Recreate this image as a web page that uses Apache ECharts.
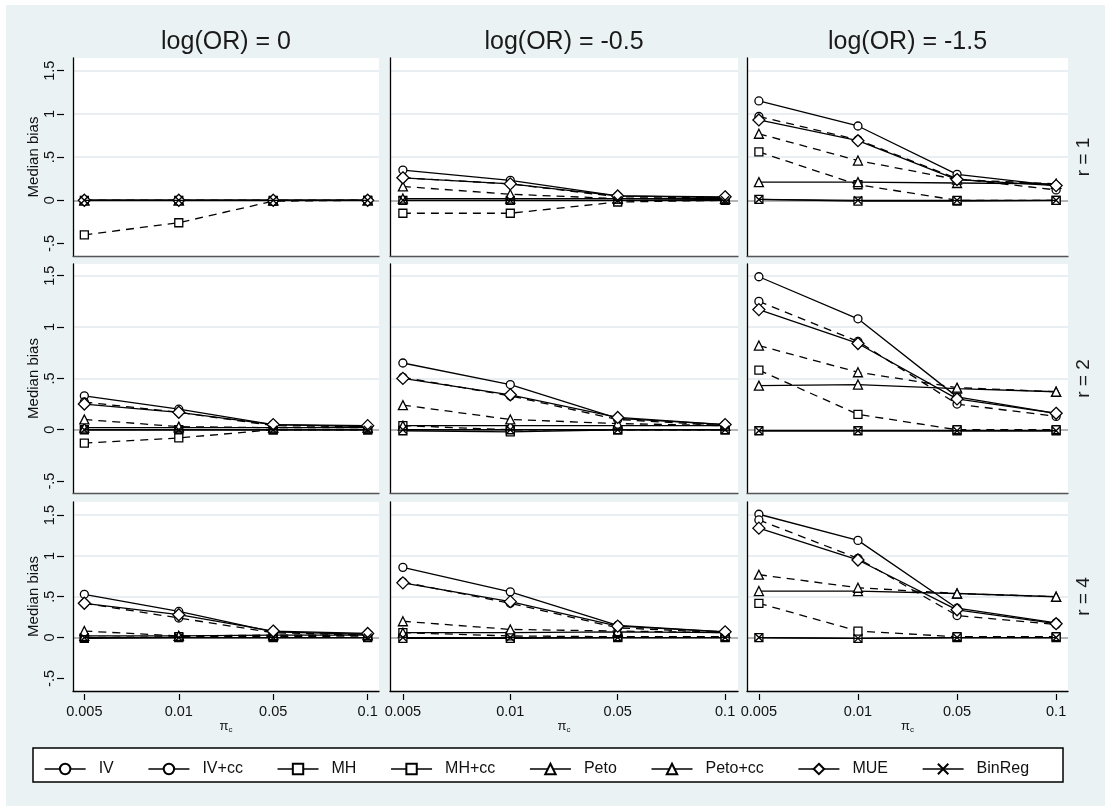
<!DOCTYPE html>
<html><head><meta charset="utf-8">
<script src="https://cdn.jsdelivr.net/npm/echarts@6/dist/echarts.min.js"></script>
<style>html,body{margin:0;padding:0;background:#fff}#c{width:1105px;height:806px}</style>
</head><body><div id="c"></div>
<script>
// ---- data ----
const piLabels = ['0.005', '0.01', '0.05', '0.1'];
const colTitles = ['log(OR) = 0', 'log(OR) = -0.5', 'log(OR) = -1.5'];
const rowTitles = ['r = 1', 'r = 2', 'r = 4'];
const yTicks = [-0.5, 0, 0.5, 1, 1.5];
const yTickLabels = ['-.5', '0', '.5', '1', '1.5'];
const methods = ['IV', 'IV+cc', 'MH', 'MH+cc', 'Peto', 'Peto+cc', 'MUE', 'BinReg'];
// each: [row r=1, r=2, r=4][col logOR 0, -0.5, -1.5][pi 0.005, 0.01, 0.05, 0.1]
const IV = [
  [[0, 0, 0, 0], [0.35, 0.23, 0.05, 0.03], [1.15, 0.86, 0.30, 0.17]],
  [[0.33, 0.20, 0.05, 0.03], [0.65, 0.44, 0.11, 0.05], [1.49, 1.08, 0.32, 0.16]],
  [[0.53, 0.32, 0.07, 0.04], [0.86, 0.56, 0.15, 0.07], [1.51, 1.19, 0.36, 0.18]]
];
const IVcc = [
  [[0, 0, 0, 0], [0.26, 0.19, 0.04, 0.03], [0.97, 0.70, 0.25, 0.12]],
  [[0.27, 0.17, 0.04, 0.03], [0.51, 0.33, 0.10, 0.04], [1.25, 0.86, 0.25, 0.13]],
  [[0.42, 0.24, 0.06, 0.03], [0.68, 0.42, 0.12, 0.06], [1.44, 0.97, 0.27, 0.16]]
];
const MH = [
  [[0, 0, 0, 0], [0, 0, 0, 0.01], [0.01, -0.01, -0.01, 0]],
  [[0, 0, 0, 0], [-0.01, -0.02, 0, 0], [-0.01, -0.01, -0.01, -0.01]],
  [[-0.01, 0, 0, 0], [-0.01, -0.01, 0, 0], [0, -0.01, 0, 0]]
];
const MHcc = [
  [[-0.40, -0.26, -0.01, 0], [-0.15, -0.15, -0.02, 0], [0.56, 0.18, 0, 0]],
  [[-0.13, -0.08, 0, 0], [0.04, 0, 0, 0], [0.58, 0.15, 0, 0]],
  [[0, 0.01, 0.01, 0.02], [0.06, 0.02, 0.01, 0.01], [0.42, 0.08, 0.01, 0.01]]
];
const Peto = [
  [[0, 0, 0, 0], [0.02, 0.02, 0.02, 0.02], [0.21, 0.21, 0.20, 0.19]],
  [[0.02, 0.02, 0.02, 0.02], [0.04, 0.04, 0.04, 0.04], [0.43, 0.44, 0.40, 0.37]],
  [[0.02, 0.02, 0.03, 0.03], [0.06, 0.06, 0.07, 0.06], [0.57, 0.57, 0.54, 0.50]]
];
const Petocc = [
  [[0, 0, 0, 0], [0.16, 0.07, 0.02, 0.02], [0.77, 0.46, 0.24, 0.19]],
  [[0.10, 0.03, 0.02, 0.02], [0.24, 0.10, 0.06, 0.04], [0.82, 0.56, 0.41, 0.37]],
  [[0.08, 0.02, 0.03, 0.03], [0.20, 0.10, 0.08, 0.06], [0.77, 0.61, 0.54, 0.50]]
];
const MUE = [
  [[0, 0, 0, 0], [0.26, 0.19, 0.05, 0.04], [0.93, 0.69, 0.24, 0.17]],
  [[0.25, 0.17, 0.05, 0.04], [0.50, 0.34, 0.12, 0.05], [1.17, 0.84, 0.30, 0.16]],
  [[0.42, 0.28, 0.08, 0.05], [0.67, 0.44, 0.14, 0.07], [1.34, 0.95, 0.34, 0.17]]
];
const BinReg = [
  [[0, 0, 0, 0], [0, 0, 0, 0], [0.01, 0, 0, 0]],
  [[0, 0, 0, 0], [0, 0, 0, 0], [-0.01, -0.01, -0.01, -0.01]],
  [[0, 0, 0, 0], [0, 0, 0, 0], [0, -0.01, 0, 0]]
];
const methodData = [IV, IVcc, MH, MHcc, Peto, Petocc, MUE, BinReg];

// ---- styling / layout ----
const FONT = "'Liberation Sans', Arial, Helvetica, sans-serif";
const symbols = ['circle', 'circle', 'rect', 'rect', 'triangle', 'triangle', 'diamond', 'path://M0,0L10,10M10,0L0,10'];
const symbolSizes = [8, 8, 8, 8, 9, 9, 12, 8];
const dashed = [false, true, false, true, false, true, false, false];
const colX = [[73, 379], [390, 738], [747, 1068]];
const rowY = [[58, 256], [264, 493], [502, 691]];
const rowRange = [[-0.645, 1.647], [-0.616, 1.614], [-0.654, 1.66]];

function yLab(v) {
  for (let i = 0; i < yTicks.length; i++) if (Math.abs(yTicks[i] - v) < 1e-6) return yTickLabels[i];
  return '';
}

const grids = [], xAxes = [], yAxes = [], series = [];
for (let r = 0; r < 3; r++) {
  for (let c = 0; c < 3; c++) {
    const gi = r * 3 + c;
    grids.push({
      left: colX[c][0], top: rowY[r][0],
      width: colX[c][1] - colX[c][0], height: rowY[r][1] - rowY[r][0],
      show: true, backgroundColor: '#fff', borderWidth: 0, containLabel: false, outerBoundsMode: 'none'
    });
    xAxes.push({
      gridIndex: gi, type: 'value', min: -0.12, max: 3.12, position: 'bottom',
      axisLine: { show: true, onZero: false, lineStyle: { color: r < 2 ? '#555' : '#000', width: 1.3 } },
      axisTick: { show: false }, axisLabel: { show: false }, splitLine: { show: false }
    });
    xAxes.push({
      gridIndex: gi, type: 'value', min: -0.12, max: 3.12, position: 'bottom', offset: 3,
      show: r === 2,
      axisLine: { show: false, onZero: false },
      axisTick: { show: true, length: 6, customValues: [0, 1, 2, 3], lineStyle: { color: '#000', width: 1.2 } },
      axisLabel: { show: true, customValues: [0, 1, 2, 3], formatter: v => piLabels[Math.round(v)] || '',
        fontSize: 14.5, color: '#111', fontFamily: FONT, margin: 10 },
      splitLine: { show: false },
      name: '{a|π}{b|c}', nameLocation: 'middle', nameGap: 24,
      nameTextStyle: { rich: {
        a: { fontSize: 13, fontFamily: FONT, color: '#111', lineHeight: 14 },
        b: { fontSize: 8, fontFamily: FONT, color: '#111', verticalAlign: 'bottom', lineHeight: 8 }
      } }
    });
    yAxes.push({
      gridIndex: gi, type: 'value', min: rowRange[r][0], max: rowRange[r][1], position: 'left',
      axisLine: { show: true, onZero: false, lineStyle: { color: '#000', width: 1.3 } },
      axisTick: { show: false, customValues: yTicks },
      axisLabel: { show: false, customValues: yTicks },
      splitLine: { show: true, lineStyle: { color: ['rgba(0,0,0,0)', '#9c9c9c', '#e1e9ed', '#e1e9ed', '#e1e9ed'], width: 1.6 } }
    });
    yAxes.push({
      gridIndex: gi, type: 'value', min: rowRange[r][0], max: rowRange[r][1], position: 'left', offset: 9,
      show: c === 0,
      axisLine: { show: false, onZero: false },
      axisTick: { show: true, length: 7, customValues: yTicks, lineStyle: { color: '#000', width: 1.2 } },
      axisLabel: { show: true, customValues: yTicks, formatter: yLab, rotate: 90, fontSize: 14.5, color: '#111',
        fontFamily: FONT, margin: 7 },
      splitLine: { show: false },
      name: 'Median bias', nameLocation: 'middle', nameRotate: 90, nameGap: 20,
      nameTextStyle: { fontSize: 15, color: '#111', fontFamily: FONT }
    });
    for (let m = 0; m < methods.length; m++) {
      const vals = methodData[m][r][c];
      series.push({
        type: 'line', name: methods[m], xAxisIndex: gi * 2, yAxisIndex: gi * 2,
        data: vals.map((v, k) => [k, v]),
        symbol: symbols[m], symbolSize: symbolSizes[m], showSymbol: true, showAllSymbol: true,
        lineStyle: { color: '#000', width: 1.3, type: dashed[m] ? [8, 6] : 'solid' },
        itemStyle: { color: '#fff', borderColor: '#000', borderWidth: 1.3 },
        emphasis: { disabled: true }, silent: true, z: 2 + m * 0.01
      });
    }
  }
}

const graphics = [
  { type: 'rect', shape: { x: 0, y: 0, width: 1105, height: 5 }, style: { fill: '#fff' }, silent: true },
  { type: 'rect', shape: { x: 0, y: 0, width: 6, height: 806 }, style: { fill: '#fff' }, silent: true },
  { type: 'rect', shape: { x: 33, y: 748, width: 1030, height: 34 }, style: { fill: '#fff', stroke: '#000', lineWidth: 1.5 }, z: 1, silent: true }
];
const colCenters = colX.map(p => (p[0] + p[1]) / 2);
colTitles.forEach((t, i) => graphics.push({
  type: 'text', x: colCenters[i], y: 42, silent: true,
  style: { text: t, x: 0, y: 0, align: 'center', verticalAlign: 'middle', textAlign: 'center', textVerticalAlign: 'middle',
    fontSize: 25, fontFamily: FONT, fill: '#1a1a1a' }
}));
const rowCenters = rowY.map(p => (p[0] + p[1]) / 2);
rowTitles.forEach((t, i) => graphics.push({
  type: 'text', x: 1084, y: rowCenters[i], rotation: Math.PI / 2, silent: true,
  style: { text: t, x: 0, y: 0, align: 'center', verticalAlign: 'middle', textAlign: 'center', textVerticalAlign: 'middle',
    fontSize: 19, fontFamily: FONT, fill: '#1a1a1a' }
}));

const chart = echarts.init(document.getElementById('c'), null, { renderer: 'canvas' });
chart.setOption({
  animation: false,
  backgroundColor: '#eaf2f3',
  grid: grids, xAxis: xAxes, yAxis: yAxes, series: series,
  legend: {
    data: methods, left: 39, top: 756, itemWidth: 41, itemHeight: 13, itemGap: 34, z: 5,
    selectedMode: false,
    textStyle: { fontSize: 16, color: '#111', fontFamily: FONT, padding: [0, 0, 0, 8] },
    lineStyle: { type: 'solid', width: 1.3 }
  },
  graphic: { elements: graphics }
});
</script>
</body></html>
